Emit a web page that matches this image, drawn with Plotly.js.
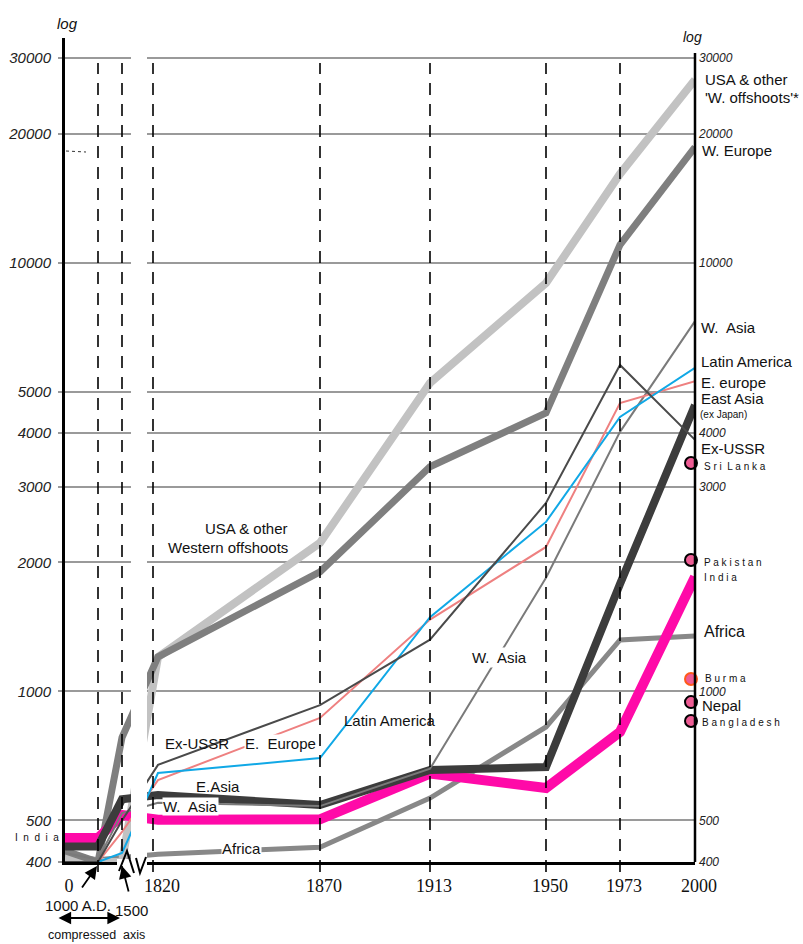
<!DOCTYPE html>
<html><head><meta charset="utf-8">
<script src="https://cdn.plot.ly/plotly-3.0.1.min.js"></script>
<style>html,body{margin:0;padding:0;background:#fff;}#chart{width:803px;height:944px;}</style>
</head><body><div id="chart"></div>
<script>
// ---------- DATA (GDP per capita) ----------
const years = [0, 1000, 1500, 1820, 1870, 1913, 1950, 1973, 2000];
const yearLabels = ['0', '', '', '1820', '1870', '1913', '1950', '1973', '2000'];

const usaOffshoots = [410, 400, 400, 1202, 2220, 5240, 8960, 16100, 26700];
const westEurope   = [425, 400, 780, 1204, 1900, 3340, 4460, 11000, 18600];
const eastAsia     = [435, 435, 560, 573, 543, 656, 666, 1780, 4650];
const india        = [455, 455, 515, 502, 503, 643, 595, 804, 1850];
const africa       = [415, 405, 410, 417, 433, 564, 826, 1318, 1346];
const westAsia     = [420, 405, 520, 550, 540, 660, 1840, 4030, 7300];
const exUSSR       = [400, 400, 500, 674, 929, 1320, 2750, 5770, 3860];
const latinAmerica = [400, 400, 420, 645, 699, 1490, 2484, 4364, 5680];
const eastEurope   = [400, 400, 470, 621, 867, 1470, 2172, 4705, 5290];

const countries2000 = ['Sri Lanka', 'Pakistan', 'Burma', 'Nepal', 'Bangladesh'];
const countryValues2000 = [3410, 2024, 1069, 944, 853];

const leftTicks  = [400, 500, 1000, 2000, 3000, 4000, 5000, 10000, 20000, 30000];
const rightTicks = [400, 500, 1000, 3000, 4000, 10000, 20000, 30000];

// ---------- compressed time axis (layout) ----------
const axisPos = {0:0, 1000:33, 1500:57, 1820:93, 1870:255, 1913:365, 1950:481, 1973:555, 2000:630};
const guidePos = [33, 57, 88, 255, 365, 481, 555];
const pos = y => axisPos[y];
const X = years.map(pos);

// pixel helpers for annotations (plot area: x 65..695, y 38..862)
const L = 65, R = 695, T = 38, B = 862;
const px = v => (v - L) / (R - L);
const py = v => (B - v) / (B - T);

const SANS = 'Liberation Sans, Arial, sans-serif';
const SERIF = 'Liberation Serif, Times New Roman, serif';

function line(vals, color, width, name) {
  return {x: X, y: vals, type: 'scatter', mode: 'lines', name: name,
    line: {color: color, width: width}, hoverinfo: 'skip', cliponaxis: false};
}

const traces = [
  line(africa, '#888888', 5, 'Africa'),
  line(usaOffshoots, '#c2c2c2', 8, 'USA & other W. offshoots'),
  line(westEurope, '#7f7f7f', 7, 'W. Europe'),
  line(india, '#ff0aa8', 10, 'India'),
  line(eastAsia, '#3c3c3c', 8, 'East Asia'),
  line(westAsia, '#7a7a7a', 2, 'W. Asia'),
  line(eastEurope, '#ee8080', 2, 'E. Europe'),
  line(latinAmerica, '#10a8e6', 2, 'Latin America'),
  line(exUSSR, '#4a4a4a', 2, 'Ex-USSR'),
  {x: countries2000.map(() => pos(2000) - 4), y: countryValues2000, type: 'scatter', mode: 'markers',
   text: countries2000, hoverinfo: 'skip', cliponaxis: false,
   marker: {size: 12, color: '#ee5c94',
     line: {color: countries2000.map(c => c === 'Burma' ? '#ff5a1a' : '#000'), width: 2}}}
];

function ann(text, x, y, size, opts) {
  return Object.assign({text: text, x: px(x), y: py(y), xref: 'paper', yref: 'paper',
    xanchor: 'left', yanchor: 'middle', showarrow: false,
    font: {family: SANS, size: size, color: '#111'}}, opts || {});
}
function arrow(hx, hy, tx, ty, extra) {
  return Object.assign({text: '', x: px(hx), y: py(hy), xref: 'paper', yref: 'paper',
    ax: tx - hx, ay: ty - hy, showarrow: true, arrowhead: 2, arrowsize: 1.4,
    arrowwidth: 1.8, arrowcolor: '#000'}, extra || {});
}

const annotations = [
  ann('log', 67, 24, 15, {xanchor: 'center', font: {family: SANS, size: 15, style: 'italic', color: '#111'}}),
  ann('log', 692, 37, 14, {xanchor: 'center', font: {family: SANS, size: 14, style: 'italic', color: '#111'}}),
  ann('USA &amp; other', 703, 79, 15),
  ann("'W. offshoots'*", 703, 97, 15),
  ann('W. Europe', 700, 150, 15),
  ann('W.  Asia', 699, 327, 15),
  ann('Latin America', 699, 361, 15),
  ann('E. europe', 699, 382, 15),
  ann('East Asia', 699, 398, 15),
  ann('(ex Japan)', 698, 414, 10),
  ann('Ex-USSR', 699, 449, 15),
  ann('S r i  L a n k a', 702, 467, 10),
  ann('P a k i s t a n', 702, 562, 10),
  ann('I n d i a', 702, 577, 10),
  ann('Africa', 702, 631, 16),
  ann('B u r m a', 703, 678, 10),
  ann('Nepal', 700, 705, 15),
  ann('B a n g l a d e s h', 700, 722, 10),
  ann('I  n  d  i  a', 13, 837, 10),
  ann('USA &amp; other', 290, 528, 15, {xanchor: 'right'}),
  ann('Western offshoots', 290, 547, 15, {xanchor: 'right'}),
  ann('W.  Asia', 470, 657, 15, {bgcolor: '#fff'}),
  ann('Latin America', 342, 720, 15),
  ann('Ex-USSR', 163, 743, 15),
  ann('E.  Europe', 244, 743, 15, {bgcolor: '#fff', borderpad: 0}),
  ann('E.Asia', 194, 786, 15),
  ann('W.  Asia', 162, 806, 15, {bgcolor: '#fff', borderpad: 0}),
  ann('Africa', 221, 848, 15, {bgcolor: '#fff', borderpad: 0}),
  ann('1000 A.D.', 78, 905, 15, {xanchor: 'center'}),
  ann('1500', 131, 910, 15, {xanchor: 'center'}),
  ann('compressed  axis', 96, 935, 12.5, {xanchor: 'center'}),
  arrow(97, 866, 81, 889),
  arrow(122, 866, 129, 893),
  arrow(120, 918, 57, 918, {arrowside: 'end+start', startarrowhead: 2, startarrowsize: 1.4})
];

const shapes = [];
guidePos.forEach(g => shapes.push({type: 'line', xref: 'x', yref: 'paper', x0: g, x1: g,
  y0: py(872), y1: py(63), line: {color: '#000', width: 1.6, dash: '12px,9px'}, layer: 'above'}));
// break in the axis
shapes.push({type: 'rect', xref: 'paper', yref: 'paper', x0: px(131), x1: px(147), y0: py(866), y1: 1,
  fillcolor: '#fff', line: {width: 0}, layer: 'above'});
shapes.push({type: 'rect', xref: 'paper', yref: 'paper', x0: px(117), x1: px(147), y0: py(866), y1: py(859),
  fillcolor: '#fff', line: {width: 0}, layer: 'above'});
shapes.push({type: 'path', xref: 'paper', yref: 'paper',
  path: `M${px(119)},${py(871)} L${px(127)},${py(851)} L${px(134)},${py(873)} M${px(136)},${py(858)} L${px(140)},${py(873)} L${px(146)},${py(857)}`,
  line: {color: '#000', width: 2}, layer: 'above'});
// right axis
shapes.push({type: 'line', xref: 'paper', yref: 'paper', x0: 1, x1: 1, y0: 0, y1: py(53),
  line: {color: '#000', width: 2.5}, layer: 'above'});
// small dotted mark
shapes.push({type: 'line', xref: 'paper', yref: 'paper', x0: px(66), x1: px(86), y0: py(151), y1: py(152),
  line: {color: '#333', width: 1, dash: 'dot'}, layer: 'above'});

const yr = [Math.log10(400), Math.log10(33400)];
const layout = {
  width: 803, height: 944,
  margin: {l: L, r: 803 - R, t: T, b: 944 - B},
  paper_bgcolor: '#fff', plot_bgcolor: '#fff',
  showlegend: false,
  xaxis: {range: [0, 630], tickvals: X, ticktext: yearLabels, showgrid: false, zeroline: false,
    showline: true, linecolor: '#000', linewidth: 2.5, ticks: '', ticklabelshift: 4,
    ticklabelstandoff: 6, tickfont: {family: SERIF, size: 18, color: '#111'}, fixedrange: true},
  yaxis: {type: 'log', range: yr, tickvals: leftTicks, ticktext: leftTicks.map(String),
    showgrid: true, gridcolor: '#9a9a9a', gridwidth: 2, zeroline: false,
    showline: true, linecolor: '#000', linewidth: 3, ticks: 'outside', ticklen: 4,
    tickcolor: '#9a9a9a', tickwidth: 2, ticklabelstandoff: 4,
    tickfont: {family: SANS, size: 15, style: 'italic', color: '#222'}},
  yaxis2: {type: 'log', range: yr, overlaying: 'y', side: 'right', tickvals: rightTicks,
    ticktext: rightTicks.map(String), showgrid: false, zeroline: false, showline: false,
    ticks: '', ticklabelstandoff: 3,
    tickfont: {family: SANS, size: 12, style: 'italic', color: '#222'}},
  annotations: annotations,
  shapes: shapes
};
// invisible trace to activate the right axis
traces.unshift({x: [0], y: [400], yaxis: 'y2', type: 'scatter', mode: 'markers',
  marker: {opacity: 0}, hoverinfo: 'skip', showlegend: false});

Plotly.newPlot('chart', traces, layout, {staticPlot: true});
</script>
</body></html>
